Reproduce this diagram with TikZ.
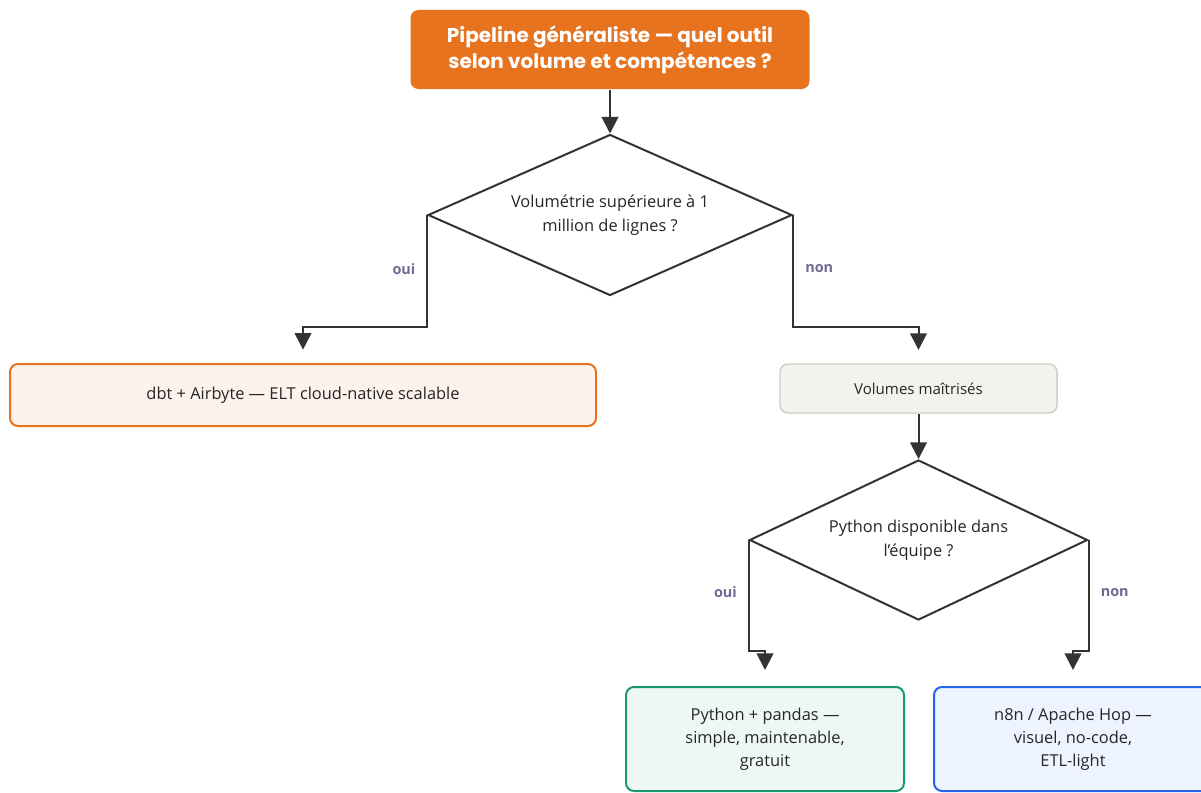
\documentclass[tikz,border=0pt]{standalone}
\usepackage{fontspec}
\setmainfont{Open Sans}
\newfontfamily\titlefont{Poppins}
\usetikzlibrary{shapes.geometric,arrows.meta,positioning}

\definecolor{orangeA}{HTML}{E8731F}
\definecolor{orangeL}{HTML}{FDF2EC}
\definecolor{greyL}{HTML}{F3F2EE}
\definecolor{greyB}{HTML}{D0CDC5}
\definecolor{greenA}{HTML}{1A9A6C}
\definecolor{greenL}{HTML}{EEF8F3}
\definecolor{blueA}{HTML}{2563EB}
\definecolor{blueL}{HTML}{EEF4FF}
\definecolor{lineC}{HTML}{333333}
\definecolor{labC}{HTML}{6E6A91}

\tikzset{
  box/.style={rectangle, rounded corners=6pt, line width=1.5pt, align=center,
    font=\fontsize{12.3}{17.25}\selectfont, text=black!85},
  decision/.style={diamond, draw=lineC, line width=1.5pt, fill=white, inner sep=0pt},
  flow/.style={draw=lineC, line width=1.5pt, -{Triangle[width=12.5pt,length=12.5pt]}},
  lab/.style={text=labC, font=\fontsize{10.8}{12}\selectfont\bfseries, inner sep=0pt}
}

\begin{document}
\begin{tikzpicture}[x=0.75pt,y=-0.75pt]
  \clip (0,0) rectangle (1201,792);
  \fill[white] (0,0) rectangle (1201,792);

  \node[box, fill=orangeA, text=white, minimum width=299.25pt, minimum height=59.25pt,
    font=\titlefont\bfseries\fontsize{15}{19.5}\selectfont]
    (titre) at (610,49.5) {Pipeline généraliste — quel outil\\selon volume et compétences ?};

  \node[decision, minimum width=273pt, minimum height=120.75pt,
    label={[align=center, font=\fontsize{12.3}{18}\selectfont, text=black!85]center:Volumétrie supérieure à 1\\million de lignes ?}]
    (q1) at (610,215) {};

  \node[box, draw=orangeA, fill=orangeL, minimum width=439.5pt, minimum height=46.5pt]
    (dbt) at (303,395) {dbt + Airbyte — ELT cloud-native scalable};

  \node[box, draw=greyB, line width=1.1pt, fill=greyL, minimum width=207.75pt, minimum height=36.75pt,
    font=\fontsize{11.3}{13}\selectfont]
    (vol) at (918.5,388.5) {Volumes maîtrisés};

  \node[decision, minimum width=253.5pt, minimum height=120pt,
    label={[align=center, font=\fontsize{12.3}{18}\selectfont, text=black!85]center:Python disponible dans\\l'équipe ?}]
    (q2) at (918.5,540) {};

  \node[box, draw=greenA, fill=greenL, minimum width=208.5pt, minimum height=78pt]
    (py) at (765,739) {Python + pandas —\\simple, maintenable,\\gratuit};

  \node[box, draw=blueA, fill=blueL, minimum width=208.5pt, minimum height=78pt]
    (nocode) at (1073,739) {n8n / Apache Hop —\\visuel, no-code,\\ETL-light};

  % liaisons
  \draw[flow] (titre) -- (q1.north);
  \draw[flow, shorten >=10pt] (q1.west) -- node[lab, midway, left=8pt, yshift=1.5pt] (oui1) {oui}
    (q1.west |- 0,327) -| (dbt.north);
  \draw[flow, shorten >=10pt] (q1.east) -- node[lab, midway, right=8.5pt, yshift=1.5pt] (non1) {non}
    (q1.east |- 0,327) -| (vol.north);
  \draw[flow] (vol) -- (q2.north);
  \draw[flow, shorten >=12pt] (q2.west) -- node[lab, midway, left=8pt, yshift=2.5pt] (oui2) {oui}
    (q2.west |- 0,651) -| (py.north);
  \draw[flow, shorten >=12pt] (q2.east) -- node[lab, midway, right=8.5pt, yshift=2.5pt] (non2) {non}
    (q2.east |- 0,651) -| (nocode.north);
\end{tikzpicture}
\end{document}
